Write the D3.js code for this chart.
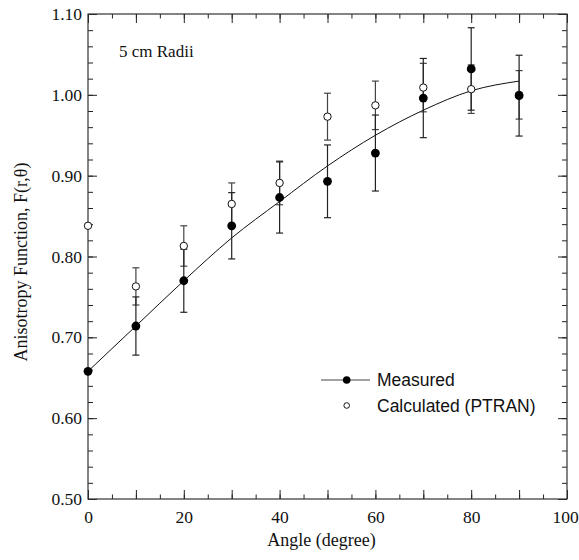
<!DOCTYPE html>
<html>
<head>
<meta charset="utf-8">
<script src="https://cdn.jsdelivr.net/npm/d3@7"></script>
<style>
  html, body { margin: 0; padding: 0; background: #fff; }
  svg { display: block; }
</style>
</head>
<body>
<div id="chart"></div>
<script>
'use strict';

// angles (degree)
var angles = [0, 10, 20, 30, 40, 50, 60, 70, 80, 90];
// measured F(r,theta) with its error
var measured = [0.658, 0.714, 0.770, 0.838, 0.873, 0.893, 0.928, 0.996, 1.032, 0.999];
var measuredErr = [null, 0.036, 0.039, 0.041, 0.044, 0.045, 0.047, 0.049, 0.051, 0.050];
// PTRAN calculation with its error
var calculated = [0.838, 0.763, 0.813, 0.865, 0.891, 0.973, 0.987, 1.009, 1.007, 1.000];
var calculatedErr = [null, 0.023, 0.025, 0.026, 0.027, 0.029, 0.030, 0.030, 0.030, 0.030];
// fitted curve through measured values
var fitValues = [0.658, 0.714, 0.770, 0.823, 0.868, 0.912, 0.950, 0.981, 1.005, 1.017];

var xTicks = [0, 20, 40, 60, 80, 100];
var yTicks = [0.5, 0.6, 0.7, 0.8, 0.9, 1.0, 1.1];

var width = 579, height = 560;
var margin = {left: 88, top: 14, right: 12, bottom: 61};
var plotW = width - margin.left - margin.right;
var plotH = height - margin.top - margin.bottom;

var serif = '"Liberation Serif", "Times New Roman", Times, serif';
var sans = '"Liberation Sans", Arial, Helvetica, sans-serif';

var svg = d3.select('#chart').append('svg')
  .attr('width', width).attr('height', height);

var g = svg.append('g').attr('transform', 'translate(' + margin.left + ',' + margin.top + ')');

var x = d3.scaleLinear().domain([0, 100]).range([0, plotW]);
var y = d3.scaleLinear().domain([0.5, 1.1]).range([plotH, 0]);

function tickGroup(axis, tx, ty) {
  var a = g.append('g').attr('transform', 'translate(' + tx + ',' + ty + ')').call(axis);
  a.select('.domain').remove();
  a.selectAll('line').attr('stroke', '#222').attr('stroke-width', 1);
  return a;
}

var minorX = d3.range(0, 101, 5);
var majorX = d3.range(0, 101, 10);
var minorY = d3.range(0, 31).map(function(i) { return 0.5 + i * 0.02; });

// inward ticks on all four sides
tickGroup(d3.axisBottom(x).tickValues(minorX).tickSize(-4.5).tickFormat(''), 0, plotH);
tickGroup(d3.axisBottom(x).tickValues(majorX).tickSize(-9).tickFormat(''), 0, plotH);
tickGroup(d3.axisTop(x).tickValues(minorX).tickSize(-4.5).tickFormat(''), 0, 0);
tickGroup(d3.axisTop(x).tickValues(majorX).tickSize(-9).tickFormat(''), 0, 0);
tickGroup(d3.axisLeft(y).tickValues(minorY).tickSize(-5).tickFormat(''), 0, 0);
tickGroup(d3.axisLeft(y).tickValues(yTicks).tickSize(-9).tickFormat(''), 0, 0);
tickGroup(d3.axisRight(y).tickValues(minorY).tickSize(-5).tickFormat(''), plotW, 0);
tickGroup(d3.axisRight(y).tickValues(yTicks).tickSize(-9).tickFormat(''), plotW, 0);

// tick labels
var xl = tickGroup(d3.axisBottom(x).tickValues(xTicks).tickSize(0).tickPadding(12).tickFormat(d3.format('d')), 0, plotH);
xl.selectAll('text').attr('font-family', serif).attr('font-size', '17.5px').attr('fill', '#111')
  .attr('dx', function(d) { return d === 100 ? '-2' : null; });
var yl = tickGroup(d3.axisLeft(y).tickValues(yTicks).tickSize(0).tickPadding(6).tickFormat(d3.format('.2f')), 0, 0);
yl.selectAll('text').attr('font-family', serif).attr('font-size', '17.5px').attr('fill', '#111');

// frame
g.append('rect').attr('x', 0).attr('y', 0).attr('width', plotW).attr('height', plotH)
  .attr('fill', 'none').attr('stroke', '#333').attr('stroke-width', 1.2);

// fitted curve
var line = d3.line()
  .x(function(d, i) { return x(angles[i]); })
  .y(function(d) { return y(d); })
  .curve(d3.curveMonotoneX);
g.append('path').datum(fitValues).attr('d', line)
  .attr('fill', 'none').attr('stroke', '#111').attr('stroke-width', 1);

// error bars
function errorBars(values, errs, colour) {
  var rows = angles.map(function(a, i) { return {a: a, v: values[i], e: errs[i]}; })
    .filter(function(d) { return d.e !== null; });
  var eb = g.append('g').attr('stroke', colour).attr('stroke-width', 1.2);
  eb.selectAll('line.v').data(rows).enter().append('line')
    .attr('x1', function(d) { return x(d.a); }).attr('x2', function(d) { return x(d.a); })
    .attr('y1', function(d) { return y(d.v - d.e); }).attr('y2', function(d) { return y(d.v + d.e); });
  [-1, 1].forEach(function(s) {
    eb.selectAll('line.c' + s).data(rows).enter().append('line')
      .attr('x1', function(d) { return x(d.a) - 3.5; }).attr('x2', function(d) { return x(d.a) + 3.5; })
      .attr('y1', function(d) { return y(d.v + s * d.e); }).attr('y2', function(d) { return y(d.v + s * d.e); });
  });
}
errorBars(calculated, calculatedErr, '#444');
errorBars(measured, measuredErr, '#222');

// points
g.append('g').selectAll('circle').data(calculated).enter().append('circle')
  .attr('cx', function(d, i) { return x(angles[i]); })
  .attr('cy', function(d) { return y(d); })
  .attr('r', 3.7).attr('fill', '#fff').attr('stroke', '#111').attr('stroke-width', 1);
g.append('g').selectAll('circle').data(measured).enter().append('circle')
  .attr('cx', function(d, i) { return x(angles[i]); })
  .attr('cy', function(d) { return y(d); })
  .attr('r', 4.4).attr('fill', '#000');

// annotation
svg.append('text').attr('x', 119).attr('y', 57)
  .attr('font-family', serif).attr('font-size', '17px').attr('fill', '#111')
  .text('5 cm Radii');

// legend
var legend = svg.append('g').attr('font-family', sans).attr('font-size', '17.5px').attr('fill', '#111');
legend.append('line').attr('x1', 321).attr('x2', 370).attr('y1', 380).attr('y2', 380)
  .attr('stroke', '#444').attr('stroke-width', 1);
legend.append('circle').attr('cx', 346.7).attr('cy', 380).attr('r', 3.8).attr('fill', '#000');
legend.append('text').attr('x', 377).attr('y', 386).text('Measured');
legend.append('circle').attr('cx', 346.7).attr('cy', 405.5).attr('r', 2.8)
  .attr('fill', '#fff').attr('stroke', '#111').attr('stroke-width', 1);
legend.append('text').attr('x', 377).attr('y', 412).text('Calculated (PTRAN)');

// axis titles
svg.append('text').attr('x', 321.5).attr('y', 546).attr('text-anchor', 'middle')
  .attr('font-family', serif).attr('font-size', '18px').attr('fill', '#111')
  .text('Angle (degree)');
svg.append('text').attr('transform', 'translate(27,262) rotate(-90)').attr('text-anchor', 'middle')
  .attr('font-family', serif).attr('font-size', '18px').attr('fill', '#111')
  .text('Anisotropy Function, F(r,θ)');
</script>
</body>
</html>
